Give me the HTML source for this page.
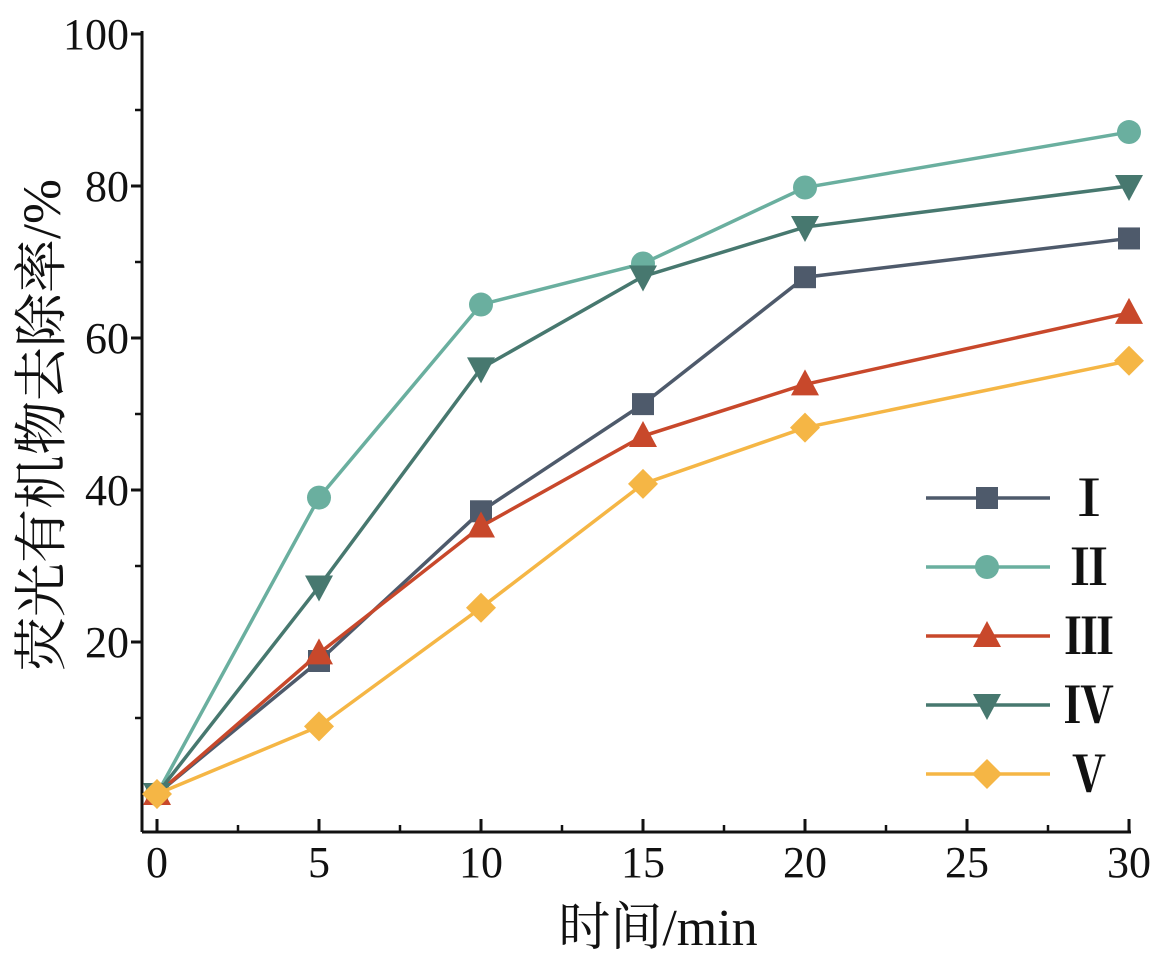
<!DOCTYPE html>
<html><head><meta charset="utf-8"><style>
body{margin:0;background:#fff}
text{font-family:"Liberation Serif","Noto Serif CJK SC",serif;fill:#111}
</style></head><body>
<svg id="chart" width="1161" height="960" xmlns="http://www.w3.org/2000/svg"></svg>
<script>
const times=[0,5,10,15,20,30];
const seriesNames=["Ⅰ","Ⅱ","Ⅲ","Ⅳ","Ⅴ"];
const s1=[0,17.5,37.2,51.3,68,73.1];
const s2=[0,39,64.4,69.8,79.8,87.1];
const s3=[0,18.5,35.2,47.1,53.9,63.3];
const s4=[0,27.3,56,68.1,74.6,80];
const s5=[0,8.9,24.5,40.8,48.2,57];
const xTicks=[0,5,10,15,20,25,30];
const yTicks=[20,40,60,80,100];
const colors=["#4e5a6b","#6aaf9f","#c8482b","#47786f","#f5b645"];
const markers=["square","circle","up","down","diamond"];
const NS="http://www.w3.org/2000/svg";
const svg=document.getElementById('chart');
const X=v=>157+v*32.4;
const Y=v=>794-v*7.6;
function mk(tag,attrs,parent){const e=document.createElementNS(NS,tag);for(const k in attrs)e.setAttribute(k,attrs[k]);(parent||svg).appendChild(e);return e;}
let ax=mk('line',{x1:142,y1:832,x2:1131,y2:832,stroke:'#111','stroke-width':3});


let ay=mk('line',{x1:142,y1:832,x2:142,y2:31,stroke:'#111','stroke-width':3});


xTicks.forEach(t=>{
 let l=mk('line',{x1:X(t),y1:832,x2:X(t),y2:819,stroke:'#111','stroke-width':3});
 
 
 let tx=mk('text',{x:X(t),y:877,'text-anchor':'middle','font-size':44});tx.textContent=t;
 
 
});
for(let t=2.5;t<30;t+=5){let l=mk('line',{x1:X(t),y1:832,x2:X(t),y2:825,stroke:'#111','stroke-width':2.5});
 
 }
yTicks.forEach(t=>{
 let l=mk('line',{x1:142,y1:Y(t),x2:131,y2:Y(t),stroke:'#111','stroke-width':3});
 
 
 let tx=mk('text',{x:129,y:Y(t)+15,'text-anchor':'end','font-size':44});tx.textContent=t;
 
 
});
for(let t=10;t<100;t+=20){let l=mk('line',{x1:142,y1:Y(t),x2:135,y2:Y(t),stroke:'#111','stroke-width':2.5});
 
 }
let xt=mk('text',{x:658,y:945,'text-anchor':'middle','font-size':52});xt.textContent='时间/min';


let yt=mk('text',{x:0,y:0,'text-anchor':'middle','font-size':54,transform:'translate(60,425) rotate(-90)'});yt.textContent='荧光有机物去除率/%';


function marker(type,x,y,c,g){
 if(type==='square')return mk('rect',{x:x-11,y:y-11,width:22,height:22,fill:c},g);
 if(type==='circle')return mk('circle',{cx:x,cy:y,r:12,fill:c},g);
 if(type==='up')return mk('polygon',{points:`${x},${y-15} ${x-14},${y+11} ${x+14},${y+11}`,fill:c},g);
 if(type==='down')return mk('polygon',{points:`${x},${y+15} ${x-14},${y-11} ${x+14},${y-11}`,fill:c},g);
 return mk('polygon',{points:`${x},${y-15} ${x+15},${y} ${x},${y+15} ${x-15},${y}`,fill:c},g);
}
[s1,s2,s3,s4,s5].forEach((s,i)=>{
 const g=mk('g',{});
 
 
 mk('polyline',{points:s.map((v,j)=>X(times[j])+','+Y(v)).join(' '),fill:'none',stroke:colors[i],'stroke-width':3.5},g);
 s.forEach((v,j)=>{const m=marker(markers[i],X(times[j]),Y(v),colors[i],g);
  
  });
 const ly=498+i*69;
 const lg=mk('g',{});
 
 
 mk('line',{x1:926,y1:ly,x2:1050,y2:ly,stroke:colors[i],'stroke-width':3.5},lg);
 marker(markers[i],987,ly,colors[i],lg);
 const t=mk('text',{x:1064,y:ly+18,'font-size':50,'font-weight':'bold'},lg);t.textContent=seriesNames[i];
});
</script>
</body></html>
